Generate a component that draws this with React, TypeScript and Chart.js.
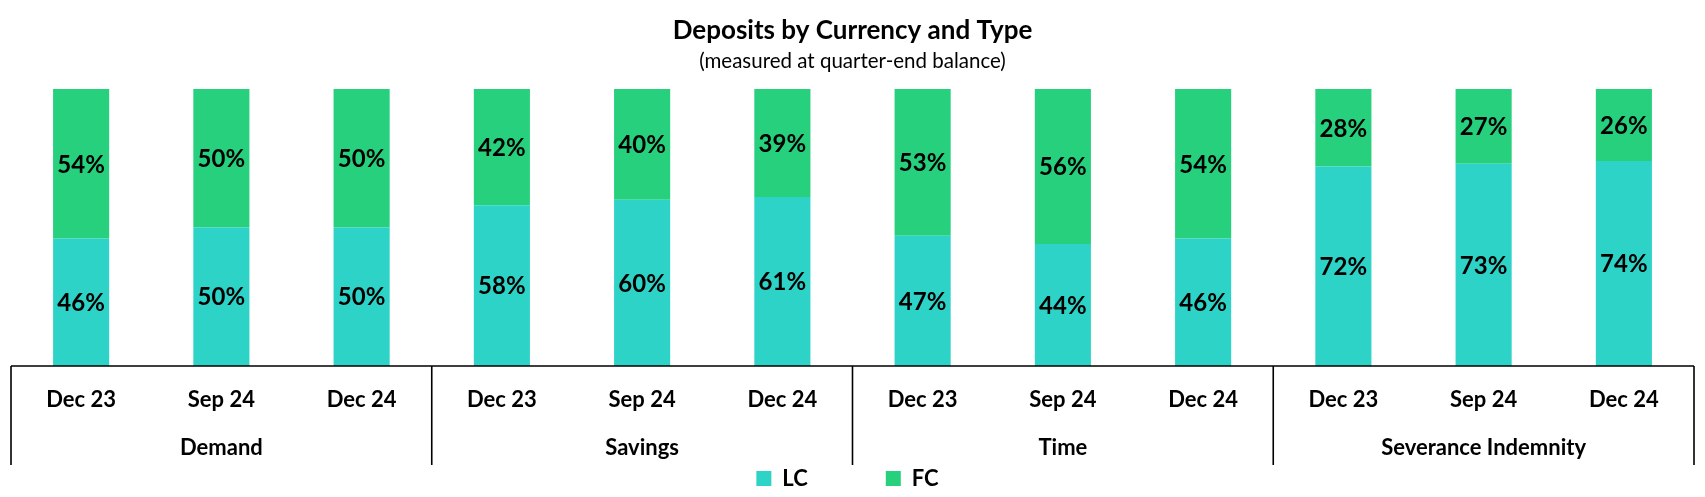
import React, { useEffect, useRef } from 'react';
import { Chart, registerables } from 'chart.js';

Chart.register(...registerables);

const groups = ['Demand', 'Savings', 'Time', 'Severance Indemnity'];
const periods = ['Dec 23', 'Sep 24', 'Dec 24'];
const lcValues = [46, 50, 50, 58, 60, 61, 47, 44, 46, 72, 73, 74];
const fcValues = [54, 50, 50, 42, 40, 39, 53, 56, 54, 28, 27, 26];
const seriesNames = ['LC', 'FC'];
const seriesColors = ['#2DD3C7', '#26D07C'];
const titleText = 'Deposits by Currency and Type';
const subtitleText = '(measured at quarter-end balance)';

const FONT = 'Lato';

const categoryLabels: (string | string[])[] = [];
groups.forEach((g) => {
  periods.forEach((p, j) => {
    categoryLabels.push(j === 1 ? [p, g] : p);
  });
});

const decorPlugin = {
  id: 'decor',
  afterLayout(chart: any) {
    // legend row sits just below the category axis, slightly left of centre
    const lg = chart.legend;
    if (lg) {
      lg.top = 389.5;
      lg.bottom = chart.height;
      lg.height = lg.bottom - lg.top;
      lg.left -= 5;
      lg.right -= 5;
    }
  },
  afterDatasetsDraw(chart: any) {
    const ctx = chart.ctx;
    ctx.save();
    ctx.font = `bold 24px ${FONT}`;
    ctx.fillStyle = '#000';
    ctx.textAlign = 'center';
    ctx.textBaseline = 'middle';
    chart.data.datasets.forEach((ds: any, di: number) => {
      const meta = chart.getDatasetMeta(di);
      meta.data.forEach((bar: any, i: number) => {
        const { x, y, base } = bar.getProps(['x', 'y', 'base'], true);
        ctx.fillText(ds.data[i] + '%', x, (y + base) / 2 + 1);
      });
    });
    ctx.restore();

    const xs = chart.scales.x;
    const y0 = chart.chartArea.bottom;
    ctx.save();
    ctx.strokeStyle = '#000';
    ctx.lineWidth = 1.6;
    ctx.beginPath();
    ctx.moveTo(xs.left, y0);
    ctx.lineTo(xs.right, y0);
    const n = xs.ticks.length;
    for (let g = 0; g <= groups.length; g++) {
      const i = g * periods.length;
      let x: number;
      if (i === 0) x = xs.left;
      else if (i >= n) x = xs.right;
      else x = (xs.getPixelForTick(i - 1) + xs.getPixelForTick(i)) / 2;
      ctx.moveTo(x, y0);
      ctx.lineTo(x, y0 + 99);
    }
    ctx.stroke();
    ctx.restore();
  },
};

export default function App() {
  const canvasRef = useRef<HTMLCanvasElement | null>(null);

  useEffect(() => {
    document.body.style.margin = '0';
    const canvas = canvasRef.current;
    if (!canvas) return;
    const chart = new Chart(canvas, {
      type: 'bar',
      data: {
        labels: categoryLabels,
        datasets: [
          {
            label: seriesNames[0],
            data: lcValues,
            backgroundColor: seriesColors[0],
            barPercentage: 0.4,
            categoryPercentage: 1,
          },
          {
            label: seriesNames[1],
            data: fcValues,
            backgroundColor: seriesColors[1],
            barPercentage: 0.4,
            categoryPercentage: 1,
          },
        ],
      },
      options: {
        responsive: false,
        animation: false,
        devicePixelRatio: 1,
        layout: { padding: { left: 11, right: 11, top: 0, bottom: 0 } },
        scales: {
          x: {
            stacked: true,
            offset: true,
            grid: { display: false, drawTicks: false },
            border: { display: false },
            ticks: {
              autoSkip: false,
              maxRotation: 0,
              minRotation: 0,
              padding: 10,
              color: '#000',
              font: { family: FONT, size: 22, weight: 'bold', lineHeight: 48 / 22 },
            },
          },
          y: {
            stacked: true,
            display: false,
            min: 0,
            max: 100,
          },
        },
        plugins: {
          title: {
            display: true,
            text: titleText,
            color: '#000',
            font: { family: FONT, size: 26, weight: 'bold' },
            padding: { top: 15.5, bottom: 0 },
          },
          subtitle: {
            display: true,
            text: subtitleText,
            color: '#000',
            font: { family: FONT, size: 20.5, weight: 'normal' },
            padding: { top: 2, bottom: 15.7 },
          },
          legend: {
            display: true,
            position: 'bottom',
            maxHeight: 15,
            labels: {
              color: '#000',
              boxWidth: 15,
              boxHeight: 15,
              padding: 78,
              font: { family: FONT, size: 22, weight: 'bold' },
            },
          },
          tooltip: { enabled: false },
        },
      },
      plugins: [decorPlugin],
    } as any);
    return () => chart.destroy();
  }, []);

  return (
    <div style={{ position: 'absolute', left: 0, top: 0, width: 1705, height: 497 }}>
      <canvas ref={canvasRef} width={1705} height={497} />
    </div>
  );
}
